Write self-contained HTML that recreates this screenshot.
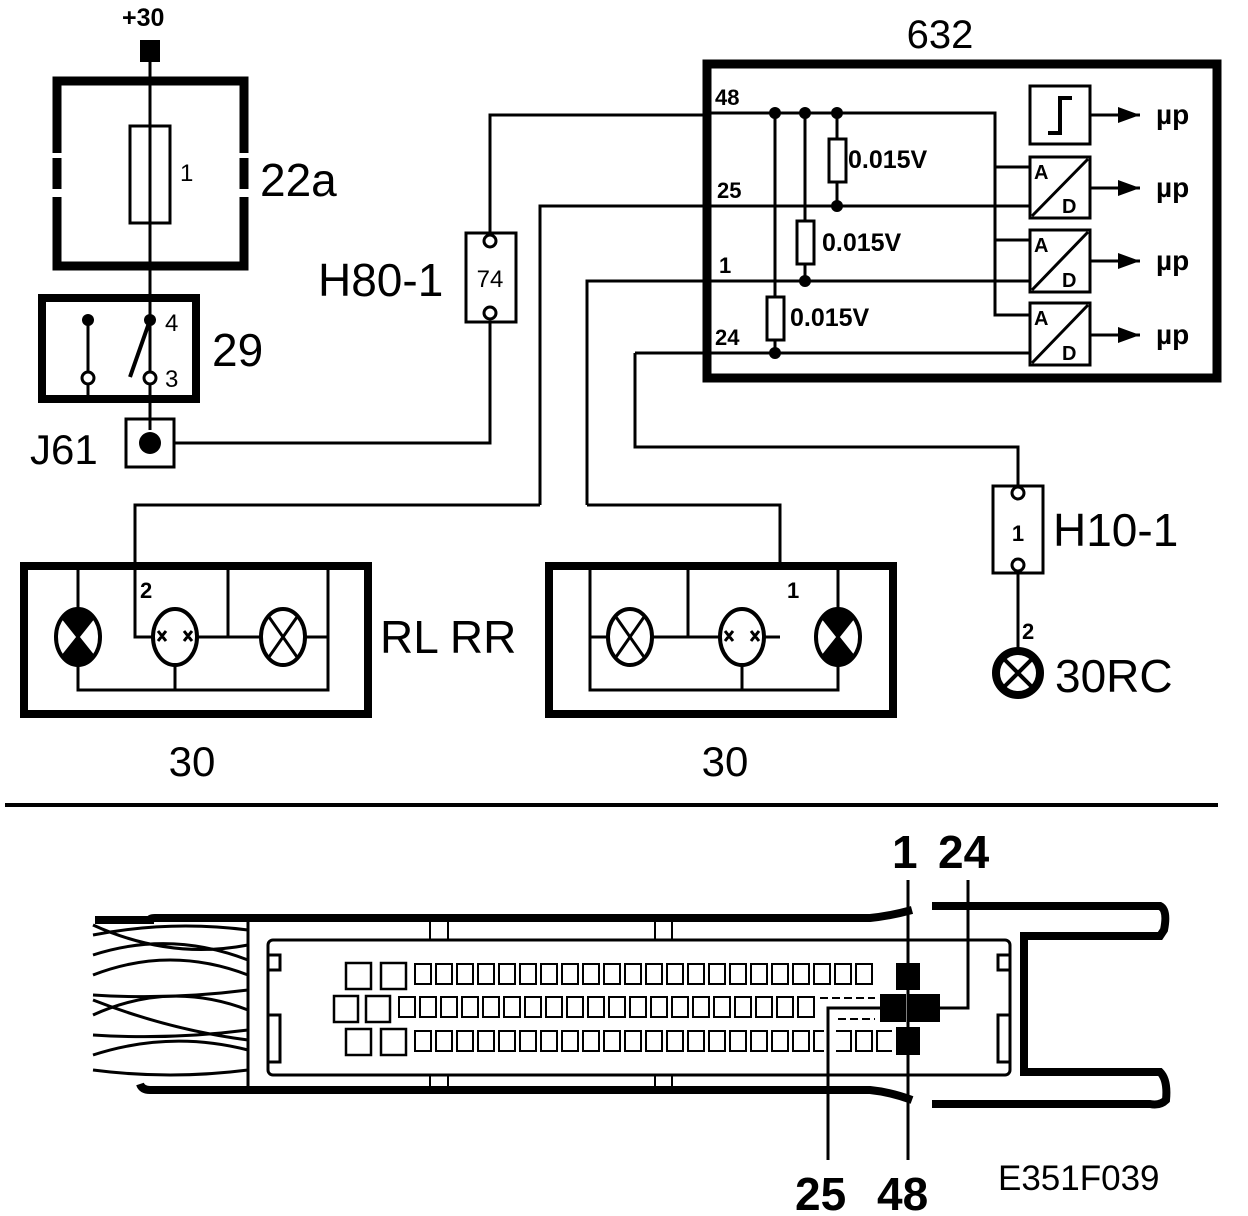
<!DOCTYPE html>
<html><head><meta charset="utf-8"><style>
html,body{margin:0;padding:0;background:#fff;}
svg{display:block;font-family:"Liberation Sans",Arial,sans-serif;}
</style></head><body>
<svg width="1248" height="1216" viewBox="0 0 1248 1216" xmlns="http://www.w3.org/2000/svg">
<defs>
<pattern id="pa" x="414" y="963" width="21" height="40" patternUnits="userSpaceOnUse"><rect x="1" y="1" width="16" height="20" fill="#fff" stroke="#000" stroke-width="2"/></pattern>
<pattern id="pb" x="398" y="996" width="21" height="40" patternUnits="userSpaceOnUse"><rect x="1" y="1" width="16" height="20" fill="#fff" stroke="#000" stroke-width="2"/></pattern>
<pattern id="pc" x="414" y="1030" width="21" height="40" patternUnits="userSpaceOnUse"><rect x="1" y="1" width="16" height="20" fill="#fff" stroke="#000" stroke-width="2"/></pattern>
</defs>
<g fill="none" stroke="#000">
<rect x="140" y="40" width="20" height="22" fill="#000" stroke="none"/>
<line x1="150" y1="60" x2="150" y2="430" stroke-width="3"/>
<path d="M57 153 V81 H244 V153 M57 158 V189 M244 158 V189 M57 197 V266 H244 V197" stroke-width="9"/>
<rect x="130" y="126" width="40" height="97" stroke-width="3" fill="#fff"/>
<line x1="150" y1="126" x2="150" y2="223" stroke-width="3"/>
<rect x="42" y="298" width="154" height="101" stroke-width="8"/>
<line x1="88" y1="320" x2="88" y2="396" stroke-width="3"/>
<line x1="150" y1="320" x2="130" y2="377" stroke-width="4"/>
<rect x="126" y="419" width="48" height="48" stroke-width="3"/>
<path d="M174 443 H490 V323 M490 232 V115 H708" stroke-width="3"/>
<rect x="466" y="233" width="50" height="89" stroke-width="3"/>
<rect x="707" y="64" width="510" height="314" stroke-width="9"/>
<path d="M708 113 H995 V315 H1030 M995 167 H1030 M995 240 H1030" stroke-width="3"/>
<path d="M540 505 V206 H1030 M587 505 V281 H1030 M635 353 H1030 M635 353 V447 H1018 V485" stroke-width="3"/>
<path d="M135 565 V505 H540 M587 505 H780 V565" stroke-width="3"/>
<path d="M775 113 V353 M805 113 V281 M837 113 V206" stroke-width="3"/>
<rect x="767" y="297" width="17" height="43" stroke-width="3" fill="#fff"/>
<rect x="797" y="221" width="17" height="43" stroke-width="3" fill="#fff"/>
<rect x="829" y="139" width="17" height="43" stroke-width="3" fill="#fff"/>
<rect x="1030" y="86" width="60" height="58" stroke-width="3" fill="#fff"/>
<path d="M1048 133 H1060 V98 H1072" stroke-width="4"/>
<rect x="1030" y="157" width="60" height="61" stroke-width="3" fill="#fff"/>
<line x1="1032" y1="216" x2="1088" y2="159" stroke-width="3"/>
<rect x="1030" y="230" width="60" height="62" stroke-width="3" fill="#fff"/>
<line x1="1032" y1="290" x2="1088" y2="232" stroke-width="3"/>
<rect x="1030" y="303" width="60" height="62" stroke-width="3" fill="#fff"/>
<line x1="1032" y1="363" x2="1088" y2="305" stroke-width="3"/>
<path d="M1090 115 H1140 M1090 188 H1140 M1090 261 H1140 M1090 335 H1140" stroke-width="3"/>
<rect x="993" y="486" width="50" height="87" stroke-width="3"/>
<line x1="1018" y1="570" x2="1018" y2="655" stroke-width="3"/>
<circle cx="1018" cy="673" r="22" stroke-width="8"/>
<path d="M1004 659 L1032 687 M1032 659 L1004 687" stroke-width="4"/>
<rect x="24" y="566" width="344" height="148" stroke-width="8"/>
<path d="M78 570 V609 M78 665 V690 H328 V570 M135 565 V637 H153 M197 637 H261 M228 637 V570 M175 665 V690 M305 637 H328" stroke-width="3"/>
<ellipse cx="78" cy="637" rx="22" ry="28" stroke-width="4" fill="#fff"/>
<path d="M62 617 L94 657 M94 617 L62 657" stroke-width="3"/>
<path d="M78 637 L62 617 A22 28 0 0 1 94 617 Z M78 637 L62 657 A22 28 0 0 0 94 657 Z" fill="#000" stroke="none"/>
<ellipse cx="175" cy="637" rx="22" ry="28" stroke-width="4" fill="#fff"/>
<ellipse cx="283" cy="637" rx="22" ry="28" stroke-width="4" fill="#fff"/>
<path d="M269 617 L297 657 M297 617 L269 657" stroke-width="3"/>
<rect x="549" y="566" width="344" height="148" stroke-width="8"/>
<path d="M590 570 V690 H838 V665 M590 637 H608 M652 637 H720 M688 637 V570 M764 637 H780 M742 665 V690 M838 570 V609" stroke-width="3"/>
<ellipse cx="630" cy="637" rx="22" ry="28" stroke-width="4" fill="#fff"/>
<path d="M616 617 L644 657 M644 617 L616 657" stroke-width="3"/>
<ellipse cx="742" cy="637" rx="22" ry="28" stroke-width="4" fill="#fff"/>
<ellipse cx="838" cy="637" rx="22" ry="28" stroke-width="4" fill="#fff"/>
<path d="M838 637 L822 617 A22 28 0 0 1 854 617 Z M838 637 L822 657 A22 28 0 0 0 854 657 Z" fill="#000" stroke="none"/>
<path d="M822 617 L854 657 M854 617 L822 657" stroke-width="3"/>
<line x1="5" y1="805" x2="1218" y2="805" stroke-width="4"/>
<path d="M95 920 H150 Q150 918 155 918 H870 Q890 916 912 910 M932 906 H1160 Q1168 910 1164 930 L1160 936 H1024 V1072 H1160 Q1168 1080 1166 1100 Q1160 1106 1150 1104 H932 M912 1100 Q890 1092 870 1090 H150 Q142 1090 140 1084" stroke-width="8"/>
<rect x="268" y="940" width="742" height="135" rx="5" stroke-width="3"/>
<path d="M268 955 H280 V970 H268 M268 1015 H280 V1062 H268 M1010 955 H998 V970 H1010 M1010 1015 H998 V1062 H1010" stroke-width="3"/>
<path d="M430 918 V940 M448 918 V940 M655 918 V940 M672 918 V940 M430 1075 V1090 M448 1075 V1090 M655 1075 V1090 M672 1075 V1090" stroke-width="2"/>
<path d="M93 935 Q170 920 248 930 M93 955 Q170 930 248 960 M93 975 Q170 945 248 975 M93 995 Q170 1000 248 990 M93 1015 Q170 980 248 1010 M93 1035 Q170 1040 248 1030 M93 1055 Q170 1030 248 1050 M93 1070 Q170 1080 248 1070 M93 925 Q170 960 248 945 M93 1000 Q170 1030 248 1040" stroke-width="3"/>
<line x1="248" y1="920" x2="248" y2="1088" stroke-width="3"/>
<rect x="346" y="963" width="25" height="26" stroke-width="2.5" fill="#fff"/>
<rect x="381" y="963" width="25" height="26" stroke-width="2.5" fill="#fff"/>
<rect x="334" y="996" width="24" height="26" stroke-width="2.5" fill="#fff"/>
<rect x="366" y="996" width="24" height="26" stroke-width="2.5" fill="#fff"/>
<rect x="346" y="1029" width="25" height="26" stroke-width="2.5" fill="#fff"/>
<rect x="381" y="1029" width="25" height="26" stroke-width="2.5" fill="#fff"/>
<rect x="414" y="963" width="462" height="23" fill="url(#pa)" stroke="none"/>
<rect x="398" y="996" width="420" height="23" fill="url(#pb)" stroke="none"/>
<rect x="414" y="1030" width="410" height="23" fill="url(#pc)" stroke="none"/>
<rect x="836" y="1030" width="56" height="23" fill="url(#pc)" stroke="none"/>
<path d="M820 998 H875 M838 1019 H875" stroke-width="2" stroke-dasharray="8 4"/>
<rect x="896" y="963" width="24" height="27" fill="#000" stroke="none"/>
<rect x="880" y="994" width="26" height="28" fill="#000" stroke="none"/>
<rect x="908" y="994" width="32" height="28" fill="#000" stroke="none"/>
<rect x="896" y="1027" width="24" height="28" fill="#000" stroke="none"/>
<path d="M908 880 V1160 M940 1008 H968 V880 M880 1008 H828 V1160" stroke-width="3"/>
</g>
<g fill="#000">
<circle cx="88" cy="320" r="6"/><circle cx="150" cy="320" r="6"/>
<circle cx="150" cy="443" r="11"/>
<circle cx="775" cy="113" r="6"/><circle cx="805" cy="113" r="6"/><circle cx="837" cy="113" r="6"/>
<circle cx="837" cy="206" r="6"/><circle cx="805" cy="281" r="6"/><circle cx="775" cy="353" r="6"/>
<path d="M1118 107 L1140 115 L1118 123 Z M1118 180 L1140 188 L1118 196 Z M1118 253 L1140 261 L1118 269 Z M1118 327 L1140 335 L1118 343 Z"/>
</g>
<g fill="#fff" stroke="#000" stroke-width="3">
<circle cx="88" cy="378" r="6"/><circle cx="150" cy="378" r="6"/>
<circle cx="490" cy="241" r="6"/><circle cx="490" cy="313" r="6"/>
<circle cx="1018" cy="493" r="6"/><circle cx="1018" cy="565" r="6"/>
</g>
<g stroke="#000" stroke-width="3">
<path d="M158 631 l8 10 M166 631 l-8 10 M184 631 l8 10 M192 631 l-8 10 M725 631 l8 10 M733 631 l-8 10 M751 631 l8 10 M759 631 l-8 10"/>
</g>
<g fill="#000">
<text x="122" y="26" font-size="25" font-weight="bold">+30</text>
<text x="180" y="181" font-size="24">1</text>
<text x="260" y="196" font-size="46">22a</text>
<text x="165" y="331" font-size="24">4</text>
<text x="165" y="387" font-size="24">3</text>
<text x="212" y="366" font-size="46">29</text>
<text x="30" y="464" font-size="42">J61</text>
<text x="318" y="296" font-size="46">H80-1</text>
<text x="490" y="287" font-size="24" text-anchor="middle">74</text>
<text x="940" y="48" font-size="40" text-anchor="middle">632</text>
<g font-weight="bold" font-size="22">
<text x="715" y="105">48</text>
<text x="717" y="198">25</text>
<text x="719" y="273">1</text>
<text x="715" y="345">24</text>
<text x="848" y="168" font-size="25">0.015V</text>
<text x="822" y="251" font-size="25">0.015V</text>
<text x="790" y="326" font-size="25">0.015V</text>
<text x="140" y="598">2</text>
<text x="787" y="598">1</text>
<text x="1022" y="639">2</text>
<text x="1018" y="541" text-anchor="middle">1</text>
</g>
<g font-size="20" font-weight="bold"><text x="1034" y="179">A</text><text x="1062" y="213">D</text><text x="1034" y="252">A</text><text x="1062" y="287">D</text><text x="1034" y="325">A</text><text x="1062" y="360">D</text></g>
<g font-size="28" font-weight="bold"><text x="1156" y="124">µp</text><text x="1156" y="197">µp</text><text x="1156" y="270">µp</text><text x="1156" y="344">µp</text></g>
<text x="1053" y="546" font-size="46">H10-1</text>
<text x="1055" y="692" font-size="46">30RC</text>
<text x="380" y="653" font-size="46">RL RR</text>
<text x="192" y="776" font-size="42" text-anchor="middle">30</text>
<text x="725" y="776" font-size="42" text-anchor="middle">30</text>
<text x="892" y="868" font-size="46" font-weight="bold">1</text>
<text x="938" y="868" font-size="46" font-weight="bold">24</text>
<text x="795" y="1210" font-size="46" font-weight="bold">25</text>
<text x="877" y="1210" font-size="46" font-weight="bold">48</text>
<text x="998" y="1190" font-size="35">E351F039</text>
</g>
</svg>
</body></html>
